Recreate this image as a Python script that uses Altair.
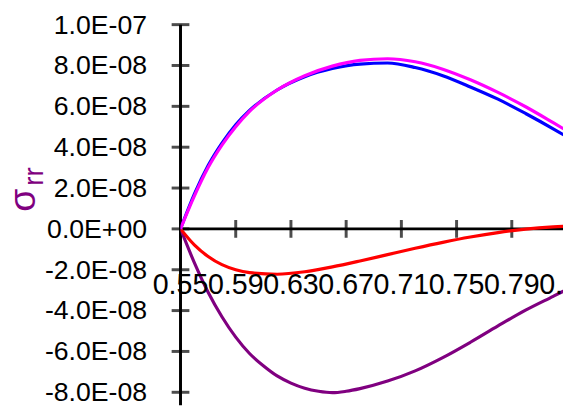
import altair as alt
import pandas as pd

# ---- data (stress values in units of 1E-08) ----
x_main = [0.55, 0.56, 0.57, 0.58, 0.59, 0.60, 0.62, 0.64, 0.66, 0.68, 0.70,
          0.72, 0.74, 0.76, 0.78, 0.80, 0.82, 0.84]
blue_vals = [0.0, 1.7, 3.1, 4.2, 5.1, 5.8, 6.8, 7.45, 7.85, 8.07, 8.12,
             7.9, 7.5, 6.95, 6.35, 5.65, 4.9, 4.1]
magenta_vals = [0.0, 1.6, 3.0, 4.1, 5.0, 5.75, 6.8, 7.5, 7.97, 8.25, 8.33,
                8.18, 7.82, 7.3, 6.68, 5.98, 5.2, 4.4]
red_vals = [0.0, -0.78, -1.35, -1.75, -2.0, -2.14, -2.22, -2.1, -1.86, -1.57, -1.26,
            -0.95, -0.66, -0.4, -0.18, -0.01, 0.1, 0.16]
x_purple = [0.55, 0.56, 0.57, 0.58, 0.59, 0.60, 0.61, 0.62, 0.63, 0.64, 0.65, 0.66,
            0.67, 0.68, 0.70, 0.72, 0.74, 0.76, 0.78, 0.80, 0.82, 0.84]
purple_vals = [0.0, -1.65, -3.1, -4.3, -5.3, -6.1, -6.7, -7.2, -7.55, -7.8, -7.95, -8.02,
               -7.95, -7.82, -7.45, -6.95, -6.3, -5.55, -4.75, -3.98, -3.3, -2.62]

series_names = ["blue", "magenta", "red", "purple"]
series_colors = ["#0000FF", "#FF00FF", "#FF0000", "#800080"]

y_tick_vals = [1.0e-07, 8.0e-08, 6.0e-08, 4.0e-08, 2.0e-08, 0.0, -2.0e-08, -4.0e-08, -6.0e-08, -8.0e-08]
y_tick_labels = ["1.0E-07", "8.0E-08", "6.0E-08", "4.0E-08", "2.0E-08", "0.0E+00",
                 "-2.0E-08", "-4.0E-08", "-6.0E-08", "-8.0E-08"]
x_tick_vals = [0.55, 0.59, 0.63, 0.67, 0.71, 0.75, 0.79, 0.83]
x_tick_labels = ["0.55", "0.59", "0.63", "0.67", "0.71", "0.75", "0.79", "0.83"]

# ---- tables ----
rows = []
for name, xs_, vals in [("blue", x_main, blue_vals), ("magenta", x_main, magenta_vals),
                        ("red", x_main, red_vals), ("purple", x_purple, purple_vals)]:
    for xv, yv in zip(xs_, vals):
        rows.append({"series": name, "x": xv, "y": yv * 1e-8})
df = pd.DataFrame(rows)
ydf = pd.DataFrame({"x": [0.55] * len(y_tick_vals), "y": y_tick_vals, "label": y_tick_labels})
xdf = pd.DataFrame({"x": x_tick_vals, "y": [0.0] * len(x_tick_vals), "label": x_tick_labels})

XMIN, XMAX = 0.55, 0.8271
YMIN, YMAX = -8.63e-08, 1.0e-07
xs = alt.Scale(domain=[XMIN, XMAX], zero=False, nice=False)
ys = alt.Scale(domain=[YMIN, YMAX], zero=False, nice=False)
FONT = "Liberation Sans"

X = alt.X("x:Q", scale=xs, axis=None)
Y = alt.Y("y:Q", scale=ys, axis=None)

# axes lines
yaxis = alt.Chart(pd.DataFrame({"x": [0.55], "y": [YMAX], "y2": [YMIN]})).mark_rule(
    color="black", strokeWidth=3).encode(x=X, y=Y, y2="y2:Q")
xaxis = alt.Chart(pd.DataFrame({"x": [0.55], "x2": [0.84], "y": [0.0]})).mark_rule(
    color="black", strokeWidth=3, clip=True).encode(x=X, x2="x2:Q", y=Y)
yticks = alt.Chart(ydf).mark_tick(orient="horizontal", size=18, thickness=3, color="black").encode(x=X, y=Y)
xticks = alt.Chart(xdf).mark_tick(orient="vertical", size=18, thickness=3, color="black").encode(x=X, y=Y)
ylabels = alt.Chart(ydf).mark_text(align="right", baseline="middle", dx=-34, dy=1, fontSize=27,
                                   font=FONT, color="black").encode(x=X, y=Y, text="label:N")
xlabels = alt.Chart(xdf).mark_text(align="center", baseline="middle", dy=57, fontSize=29,
                                   font=FONT, color="black").encode(x=X, y=Y, text="label:N")

lines = alt.Chart(df).mark_line(strokeWidth=3.2, interpolate="monotone", clip=True).encode(
    x=X, y=Y,
    color=alt.Color("series:N", scale=alt.Scale(domain=series_names, range=series_colors), legend=None),
    order=alt.Order("x:Q"),
    detail="series:N",
)
lines_purple = lines.transform_filter("datum.series == 'purple'")
lines_red = lines.transform_filter("datum.series == 'red'")
lines_blue = lines.transform_filter("datum.series == 'blue'")
lines_mag = lines.transform_filter("datum.series == 'magenta'")

sigma = alt.Chart(pd.DataFrame({"t": ["σ"]})).mark_text(
    angle=270, align="center", baseline="middle", fontSize=38, font=FONT, color="#800080"
).encode(x=alt.value(-159), y=alt.value(178), text="t:N")
sub = alt.Chart(pd.DataFrame({"t": ["rr"]})).mark_text(
    angle=270, align="center", baseline="middle", fontSize=28, font=FONT, color="#800080"
).encode(x=alt.value(-148), y=alt.value(154), text="t:N")

chart = alt.layer(
    xaxis, yaxis, xticks, yticks, lines_purple, lines_red, lines_blue, lines_mag,
    ylabels, xlabels, sigma, sub
).properties(
    width=388, height=386,
    autosize=alt.AutoSizeParams(type="none"),
    padding={"left": 175, "top": 14, "right": 0, "bottom": 0},
).configure_view(stroke=None)

chart.save("out.html", embed_options={"renderer": "svg", "actions": False})
